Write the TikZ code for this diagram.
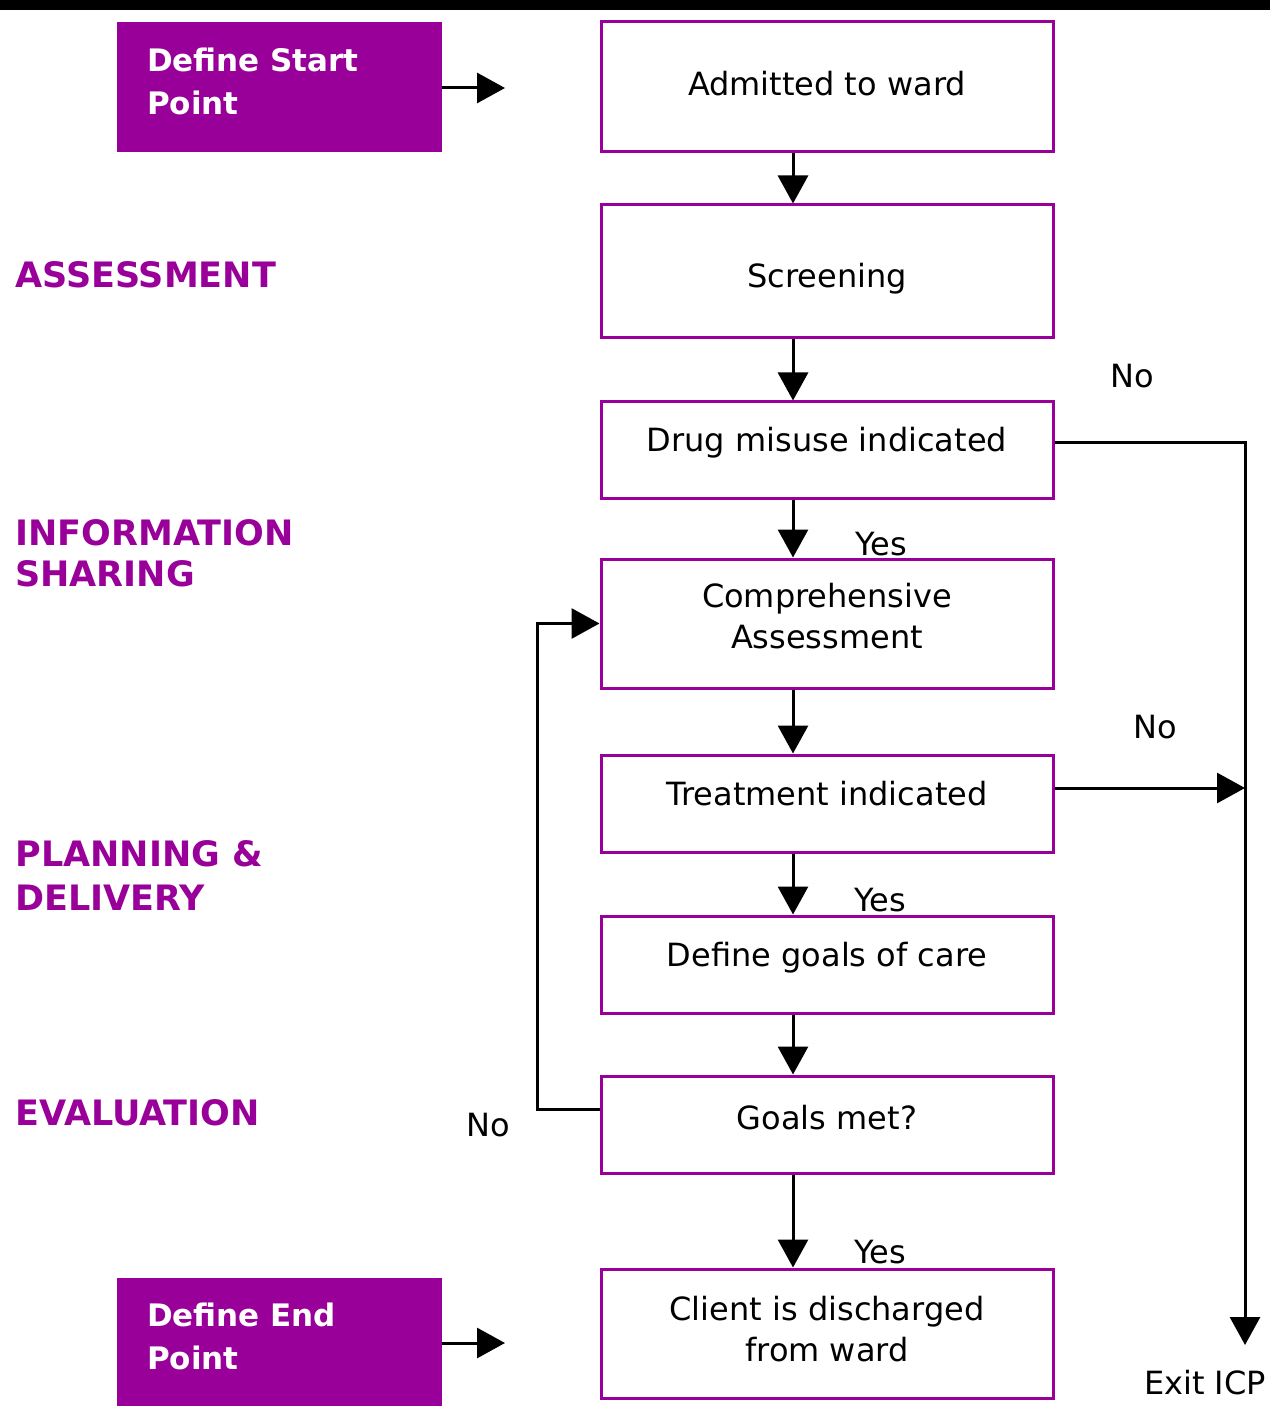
\documentclass[tikz,border=0pt]{standalone}
\usepackage{fontspec}
\setmainfont{DejaVu Sans}
\usetikzlibrary{arrows.meta}
\definecolor{plum}{HTML}{990099}
\begin{document}
\begin{tikzpicture}[x=0.5pt,y=-0.5pt,
  flow/.style={draw=plum, line width=1.5pt, minimum width=226pt, inner sep=0pt, align=center, font=\fontsize{16}{20.5}\selectfont},
  defbox/.style={fill=plum, text=white, text width=132.5pt, inner xsep=15pt, inner ysep=0pt, align=left, text height=6pt, font=\bfseries\fontsize{15.5}{21.5}\selectfont},
  phase/.style={text=plum, anchor=west, align=left, inner sep=0pt, font=\bfseries\fontsize{17.5}{20.5}\selectfont},
  lbl/.style={inner sep=0pt, font=\fontsize{16}{18}\selectfont},
  conn/.style={line width=1.5pt},
  arr/.style={conn, -{Triangle[width=15pt,length=14pt]}}
]
\useasboundingbox (0,0) rectangle (1270,1406);
\fill[white] (0,0) rectangle (1270,1406);
\fill[black] (0,0) rectangle (1270,10);

% main column
\node[flow, minimum height=65pt, text depth=4pt]     (adm)    at (827,87)     {Admitted to ward};
\node[flow, minimum height=66.5pt, text height=19.5pt] (scr)  at (827,271.5)  {Screening};
\node[flow, minimum height=48pt, text depth=11pt]    (drug)   at (827,450)    {Drug misuse indicated};
\node[flow, minimum height=64.5pt, text depth=8pt]   (comp)   at (827,623.5)  {Comprehensive\\Assessment};
\node[flow, minimum height=48.5pt, text depth=10pt]  (treat)  at (827,803.5)  {Treatment indicated};
\node[flow, minimum height=48.5pt, text depth=10pt]  (goals)  at (827,964.5)  {Define goals of care};
\node[flow, minimum height=48.5pt, text depth=7pt]   (met)    at (827,1124.5) {Goals met?};
\node[flow, minimum height=64.5pt, text depth=5pt]   (client) at (827,1333.5) {Client is discharged\\from ward};

% define boxes
\node[defbox, minimum height=65pt] (start) at (279.5,87) {Define Start\\Point};
\node[defbox, minimum height=64pt] (endp)  at (279.5,1342) {Define End\\Point};

% phase labels
\node[phase] (pA) at (15,275)    {ASSESSMENT};
\node[phase] (pI) at (15,553.5)  {INFORMATION\\SHARING};
\node[phase, font=\bfseries\fontsize{17.5}{22}\selectfont] (pP) at (15,876) {PLANNING \&\\DELIVERY};
\node[phase] (pE) at (15,1113)   {EVALUATION};

% coordinates
\coordinate (col) at (793,0);
\coordinate (sT) at (505,88);
\coordinate (eT) at (505,1343);
\coordinate (dR) at (1245,443);
\coordinate (xT) at (1245,1345);
\coordinate (tR) at (1245,788);
\coordinate (lpB) at (537,1109);
\coordinate (lpT) at (537,623.5);

% vertical arrows
\draw[arr] (adm.south -| col)   -- (scr.north -| col);
\draw[arr] (scr.south -| col)   -- (drug.north -| col);
\draw[arr] (drug.south -| col)  -- (comp.north -| col);
\draw[arr] (comp.south -| col)  -- (treat.north -| col);
\draw[arr] (treat.south -| col) -- (goals.north -| col);
\draw[arr] (goals.south -| col) -- (met.north -| col);
\draw[arr] (met.south -| col)   -- (client.north -| col);

% start / end arrows
\draw[arr] (start.east |- sT) -- (sT);
\draw[arr] (endp.east |- eT) -- (eT);

% exit branches
\draw[arr] (drug.east |- dR) -- (dR) -- (xT);
\draw[arr] (treat.east |- tR) -- (tR);

% loop back
\draw[arr] (met.west |- lpB) -- (lpB) -- (lpT) -- (comp.west);

% labels
\node[lbl] (no1) at (1132,376) {No};
\node[lbl] (no2) at (1155,727) {No};
\node[lbl] (no3) at (488,1125) {No};
\node[lbl] (y1) at (881,544) {Yes};
\node[lbl] (y2) at (880,900) {Yes};
\node[lbl] (y3) at (880,1252) {Yes};
\node[lbl] (exit) at (1205,1383) {Exit ICP};
\end{tikzpicture}
\end{document}
